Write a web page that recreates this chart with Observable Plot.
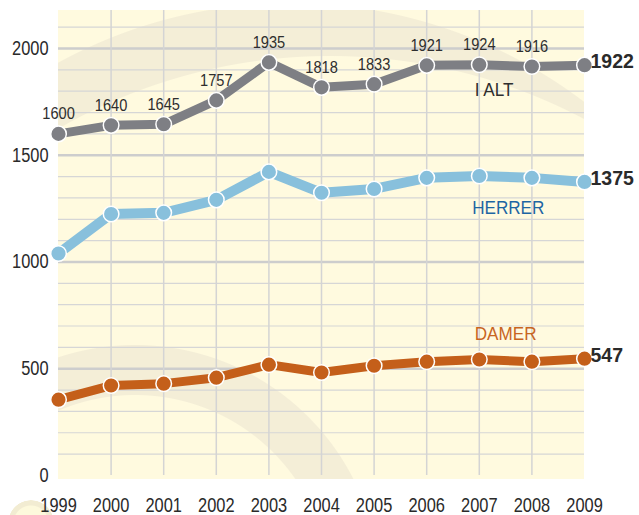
<!DOCTYPE html>
<html>
<head>
<meta charset="utf-8">
<script src="https://cdn.jsdelivr.net/npm/d3@7"></script>
<script src="https://cdn.jsdelivr.net/npm/@observablehq/plot@0.6"></script>
<style>
  html, body { margin: 0; padding: 0; background: #ffffff; }
  #wrap { position: relative; width: 639px; height: 515px; overflow: hidden; }
  #bg {
    position: absolute; left: 58px; top: 10px; width: 526px; height: 469px;
    background:
      radial-gradient(circle 195px at 77px 580px, #fffadf 194.5px, transparent 195.5px),
      radial-gradient(circle 245px at 77px 580px, #f4eed7 244.5px, transparent 245.5px),
      radial-gradient(circle 544px at 272px 590px, #fffadf 543.5px, transparent 544.5px),
      radial-gradient(circle 484px at 233px 477px, #f4eed7 483.5px, transparent 484.5px),
      #fffadf;
  }
  #logo {
    position: absolute; left: 8px; top: 500px; width: 46px; height: 46px; border-radius: 50%;
    background: radial-gradient(circle 23px at 23px 23px, #fdf9dc 17px, #f2ecd2 18px, #f2ecd2 22.5px, transparent 23px);
  }
  #chart { position: absolute; left: 0; top: 0; }
</style>
</head>
<body>
<div id="wrap">
  <div id="bg"></div>
  <div id="logo"></div>
  <div id="chart"></div>
</div>
<script>
// ---- data ----
const years = [1999, 2000, 2001, 2002, 2003, 2004, 2005, 2006, 2007, 2008, 2009];
const iAlt   = [1600, 1640, 1645, 1757, 1935, 1818, 1833, 1921, 1924, 1916, 1922];
const herrer = [1040, 1225, 1230, 1291, 1422, 1324, 1342, 1394, 1403, 1394, 1375];
const damer  = [355, 421, 430, 458, 519, 482, 514, 533, 543, 533, 547];
const seriesNames = ["I ALT", "HERRER", "DAMER"];
const yTickLabels = [0, 500, 1000, 1500, 2000];
const gridValues = [0, 100, 200, 300, 400, 500, 600, 700, 800, 900, 1000, 1100, 1200, 1300, 1400, 1500, 1600, 1700, 1800, 1900, 2000, 2100];

const colors = {"I ALT": "#7e7f84", "HERRER": "#88c0dc", "DAMER": "#c45f1a"};
const labelColors = {"I ALT": "#2e2e2e", "HERRER": "#1d65a3", "DAMER": "#c8651f"};
const labelPos = {"I ALT": [2007.28, 1808], "HERRER": [2007.55, 1255], "DAMER": [2007.5, 665]};

const seriesValues = {"I ALT": iAlt, "HERRER": herrer, "DAMER": damer};
const rows = seriesNames.flatMap(s => years.map((y, i) => ({series: s, year: y, value: seriesValues[s][i]})));
const lastRows = rows.filter(d => d.year === years[years.length - 1]);
const totalRows = rows.filter(d => d.series === "I ALT" && d.year !== years[years.length - 1]);
const font = "'Liberation Sans', Arial, sans-serif";

const chart = Plot.plot({
  width: 639,
  height: 515,
  marginLeft: 58,
  marginRight: 55,
  marginTop: 10,
  marginBottom: 36,
  style: {background: "transparent", fontFamily: font, color: "#2a2a2a"},
  x: {type: "linear", domain: [1999, 2009]},
  y: {domain: [-19, 2178]},
  marks: [
    Plot.ruleY(gridValues.filter(v => v % 500 !== 0), {stroke: "#d6d6d6", strokeWidth: 1.2}),
    Plot.ruleY(gridValues.filter(v => v % 500 === 0 && v > 0), {stroke: "#cdcdcd", strokeWidth: 2.5}),
    Plot.ruleX(years.slice(1, -1), {y1: 0, y2: 2178, stroke: "#d4d4d4", strokeWidth: 1.5}),
    Plot.axisY(yTickLabels, {tickSize: 0, tickPadding: 10, fontSize: 20, fill: "#2a2a2a", tickFormat: d => String(d), label: null}),
    Plot.axisX(years, {tickSize: 0, tickPadding: 18, fontSize: 20, fill: "#2a2a2a", tickFormat: d => String(d), label: null}),
    ...seriesNames.map(s => Plot.line(rows.filter(d => d.series === s), {
      x: "year", y: "value", stroke: colors[s], strokeWidth: s === "HERRER" ? 10 : 9, strokeLinejoin: "miter", strokeLinecap: "butt"
    })),
    ...seriesNames.map(s => Plot.dot(rows.filter(d => d.series === s), {
      x: "year", y: "value", r: 7.8, fill: colors[s], stroke: "#ffffff", strokeWidth: 1.5
    })),
    Plot.text(totalRows, {x: "year", y: "value", text: d => String(d.value), dy: -20, fontSize: 17, fill: "#2e2e2e"}),
    Plot.text(lastRows, {x: "year", y: "value", text: d => String(d.value), textAnchor: "start", dx: 6, dy: -3, fontSize: 19.5, fontWeight: "bold", fill: "#2a2a2a"}),
    ...seriesNames.map(s => Plot.text([s], {x: labelPos[s][0], y: labelPos[s][1], text: d => d, fontSize: 19, fill: labelColors[s]}))
  ]
});
document.getElementById("chart").appendChild(chart);

// condense the regular-weight text horizontally (the original uses a condensed face)
const condenseBySize = {"20px": 0.82, "17px": 0.86, "19px": 0.9};
chart.querySelectorAll("text").forEach(t => {
  const cs = getComputedStyle(t);
  if (cs.fontWeight === "700" || cs.fontWeight === "bold") return;
  const f = condenseBySize[cs.fontSize];
  if (!f) return;
  const len = t.getComputedTextLength();
  t.setAttribute("textLength", (len * f).toFixed(2));
  t.setAttribute("lengthAdjust", "spacingAndGlyphs");
});
</script>
</body>
</html>
